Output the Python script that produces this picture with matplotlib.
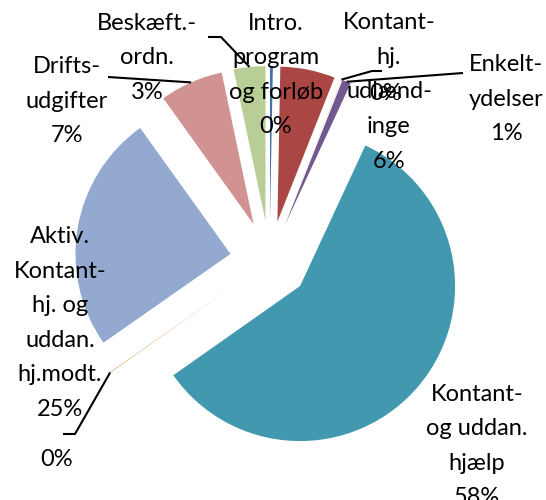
import math
import matplotlib.pyplot as plt

# slices clockwise from 12 o'clock (Excel order)
names = ["Intro.\nprogram\nog forløb", "Kontant-\nhj.\nudlænd-\ninge", "", "Enkelt-\nydelser",
         "Kontant-\nog uddan.\nhjælp", "", "Aktiv.\nKontant-\nhj. og\nuddan.\nhj.modt.",
         "Drifts-\nudgifter", "Beskæft.-\nordn."]
shares = [0.3, 5.7, 0.02, 0.9, 58.3, 0.05, 24.8, 6.6, 3.3]
colors = ["#4572A7", "#AA4643", "#89A54E", "#71588F", "#4198AF",
          "#DB843D", "#93A9CF", "#D19392", "#B9CD96"]

W, H = 546, 500
# label centres in pixel coords (top-left origin)
label_px = [(276, 75), (389, 92), (386, 93), (506, 99), (477, 446),
            (57, 459), (60, 323), (67, 101), (147, 58)]
# leader line bends (pixels), line starts at the slice's outer edge
leaders = {2: [(372, 71), (382, 71)], 3: [(463, 73)], 5: [(75, 434), (63, 434)],
           7: [(108, 77)], 8: [(221, 37), (208, 37)]}

plt.rcParams['font.family'] = ['Lato', 'DejaVu Sans']

fig = plt.figure(figsize=(W / 100, H / 100), dpi=100)
ax = fig.add_axes([0, 0, 1, 1])

radius = 155
centre = (269.6, H - 260.6)
wedges, _ = ax.pie(shares, colors=colors, explode=[39.7] * len(shares), radius=radius,
                   center=centre, startangle=90, counterclock=False,
                   wedgeprops=dict(linewidth=0))

total = sum(shares)
for i, (name, v) in enumerate(zip(names, shares)):
    pct = f"{round(v / total * 100)}%"
    txt = name + "\n" + pct if name else pct
    x, y = label_px[i]
    ax.text(x, H - y, txt, ha="center", va="center", fontsize=17,
            linespacing=1.8, color="black")

for i, pts in leaders.items():
    w = wedges[i]
    mid = math.radians((w.theta1 + w.theta2) / 2)
    sx = w.center[0] + w.r * math.cos(mid)
    sy = w.center[1] + w.r * math.sin(mid)
    xs = [sx] + [p[0] for p in pts]
    ys = [sy] + [H - p[1] for p in pts]
    ax.plot(xs, ys, color="black", lw=1.5, solid_capstyle="butt")

ax.set_xlim(0, W)
ax.set_ylim(0, H)
ax.set_aspect("equal")
ax.axis("off")

fig.savefig("out.png", dpi=100)
